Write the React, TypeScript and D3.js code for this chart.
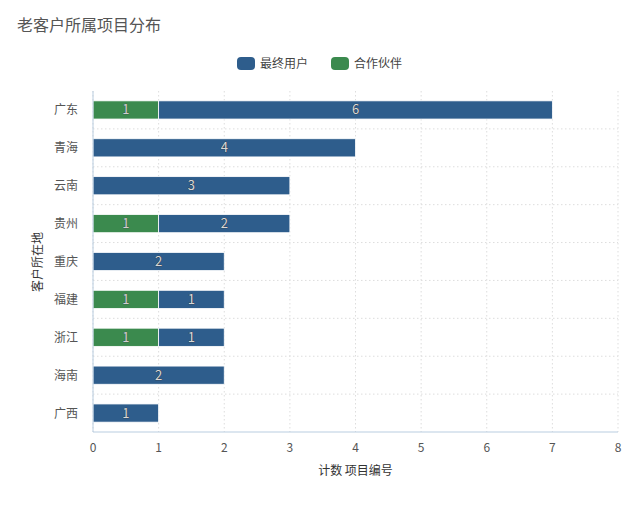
import React from "react";
import * as d3 from "d3";

const categories = ["广东", "青海", "云南", "贵州", "重庆", "福建", "浙江", "海南", "广西"];
const partnerValues = [1, 0, 0, 1, 0, 1, 1, 0, 0];
const endUserValues = [6, 4, 3, 2, 2, 1, 1, 2, 1];
const xTicks = [0, 1, 2, 3, 4, 5, 6, 7, 8];
const seriesNames = ["最终用户", "合作伙伴"];

const BLUE = "#2e5d8c";
const GREEN = "#3b8a4e";
const FONT = "'Noto Sans CJK SC', 'Noto Sans', sans-serif";

export default function App() {
  const W = 640, H = 524;
  const left = 93, right = 618, top = 91, bottom = 432;
  const x = d3.scaleLinear().domain([0, 8]).range([left, right]);
  const y = d3.scaleBand().domain(categories).range([top, bottom]).paddingInner(0.52).paddingOuter(0.26);
  const boundaries = d3.range(1, categories.length).map((i) => top + i * ((bottom - top) / categories.length));

  return (
    <svg width={W} height={H} style={{ position: "absolute", left: 0, top: 0, background: "#fff" }} fontFamily={FONT}>
      <text x={17} y={31} fontSize={16} fill="#555">老客户所属项目分布</text>
      {/* legend */}
      <rect x={237} y={57} width={18} height={13} rx={4} fill={BLUE} />
      <text x={260} y={68} fontSize={12} fill="#444">{seriesNames[0]}</text>
      <rect x={331} y={57} width={18} height={13} rx={4} fill={GREEN} />
      <text x={354} y={68} fontSize={12} fill="#444">{seriesNames[1]}</text>

      {/* grid */}
      {xTicks.map((t) => (
        <line key={"vg" + t} x1={x(t)} x2={x(t)} y1={top} y2={bottom} stroke="#ddd" strokeDasharray="1.5,2.5" />
      ))}
      {boundaries.map((b, i) => (
        <line key={"hg" + i} x1={left} x2={right} y1={b} y2={b} stroke="#ddd" strokeDasharray="1.5,2.5" />
      ))}

      {/* bars */}
      {categories.map((c, i) => {
        const p = partnerValues[i];
        const e = endUserValues[i];
        const y0 = y(c)!;
        const h = y.bandwidth();
        const cy = y0 + h / 2;
        return (
          <g key={c}>
            {p > 0 && (
              <rect x={x(0)} y={y0} width={x(p) - x(0)} height={h} fill={GREEN} stroke="#fff" strokeWidth={0.8} />
            )}
            {e > 0 && (
              <rect x={x(p)} y={y0} width={x(p + e) - x(p)} height={h} fill={BLUE} stroke="#fff" strokeWidth={0.8} />
            )}
            {p > 0 && (
              <text x={(x(0) + x(p)) / 2} y={cy + 4.5} textAnchor="middle" fontSize={13} fill="#d0d0d0" stroke="#444" strokeWidth={0.6} paintOrder="stroke">{p}</text>
            )}
            {e > 0 && (
              <text x={(x(p) + x(p + e)) / 2} y={cy + 4.5} textAnchor="middle" fontSize={13} fill="#d8d8d8" stroke="#333" strokeWidth={0.6} paintOrder="stroke">{e}</text>
            )}
            <text x={78} y={cy + 4.5} textAnchor="end" fontSize={12} fill="#555">{c}</text>
          </g>
        );
      })}

      {/* axes */}
      <line x1={left} x2={left} y1={top} y2={bottom} stroke="#b9cde0" />
      <line x1={left} x2={right} y1={bottom} y2={bottom} stroke="#b9cde0" />
      {xTicks.map((t) => (
        <text key={"xt" + t} x={x(t)} y={452} textAnchor="middle" fontSize={12} fill="#555">{t}</text>
      ))}
      <text x={(left + right) / 2} y={475} textAnchor="middle" fontSize={12} fill="#333">计数 项目编号</text>
      <text transform={`translate(42,262) rotate(-90)`} textAnchor="middle" fontSize={12} fill="#333">客户所在地</text>
    </svg>
  );
}
